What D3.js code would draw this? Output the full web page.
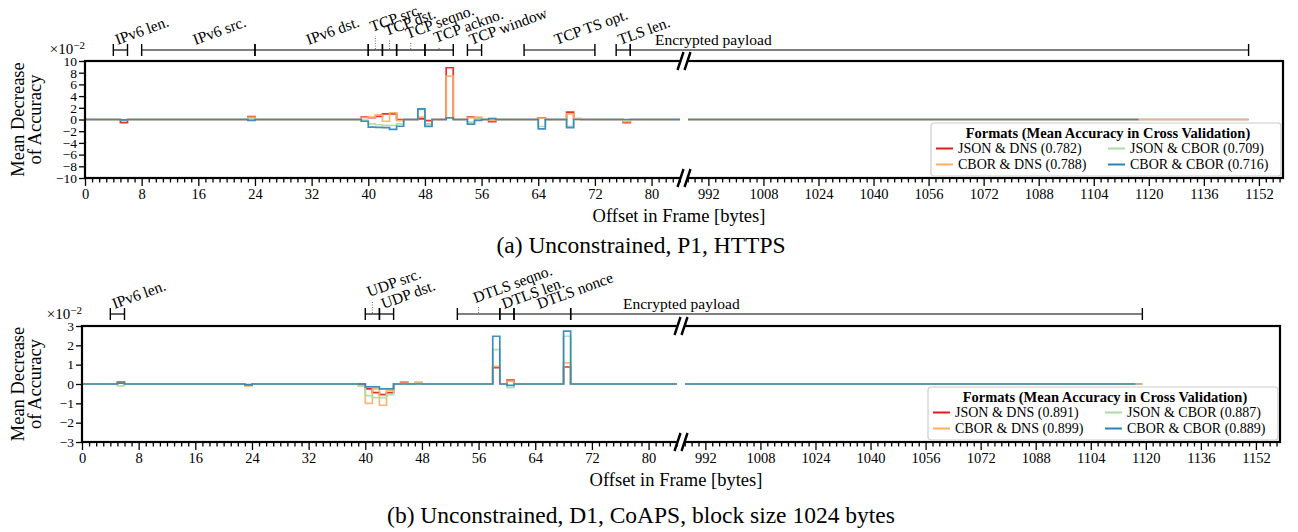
<!DOCTYPE html>
<html>
<head>
<meta charset="utf-8">
<script src="https://cdn.jsdelivr.net/npm/d3@7"></script>
<style>
  body { margin: 0; background: #fff; }
  svg { font-family: "Liberation Serif", "Times New Roman", serif; }
</style>
</head>
<body>
<svg id="chart" width="1298" height="532"></svg>
<script>
// header byte offsets shown left of the axis break
const headerOffsets = d3.range(0, 85);

const formatNames = ["JSON & DNS", "CBOR & DNS", "JSON & CBOR", "CBOR & CBOR"];
const formatColors = ["#e31a1c", "#fdae61", "#abdda4", "#2b83ba"];

// (a) Unconstrained, P1, HTTPS  -- mean decrease of accuracy, x10^-2
const accuracyA = [0.782, 0.788, 0.709, 0.716];
const jsonDnsA = [
  0, 0, 0, 0, 0, -0.55, 0, 0,
  0, 0, 0, 0, 0, 0, 0, 0,
  0, 0, 0, 0, 0, 0, 0, 0.5,
  0, 0, 0, 0, 0, 0, 0, 0,
  0, 0, 0, 0, 0, 0, 0, 0.4,
  0.3, 0.55, 0.95, 0.95, 0, 0, 0, 0.1,
  -0.2, 0, 0, 8.85, 0, 0, 0.4, 0.2,
  0, -0.35, 0, 0, 0, 0, 0, 0,
  0.3, 0, 0, 0, 1.25, 0.05, 0, 0,
  0, 0, 0, 0, -0.55, 0, 0, 0,
  0, 0, 0, 0, 0
];
const cborDnsA = [
  0, 0, 0, 0, 0, -0.1, 0, 0,
  0, 0, 0, 0, 0, 0, 0, 0,
  0, 0, 0, 0, 0, 0, 0, 0.35,
  0, 0, 0, 0, 0, 0, 0, 0,
  0, 0, 0, 0, 0, 0, 0, 0.3,
  0.4, 0.8, -0.3, 1.15, -0.2, 0, 0, 0.4,
  -0.75, 0, 0, 7.4, 0, 0, 0.3, 0.4,
  0, -0.15, 0, 0, 0, 0, 0, 0,
  0.25, 0, 0, 0, 0.95, 0.2, 0, 0,
  0, 0, 0, 0, -0.35, 0, 0, 0,
  0, 0, 0, 0, 0
];
const jsonCborA = [
  0, 0, 0, 0, 0, -0.1, 0, 0,
  0, 0, 0, 0, 0, 0, 0, 0,
  0, 0, 0, 0, 0, 0, 0, 0.1,
  0, 0, 0, 0, 0, 0, 0, 0,
  0, 0, 0, 0, 0, 0, 0, -0.1,
  -0.75, -0.9, -1.0, -1.0, -0.75, 0, 0, 1.7,
  -1.0, 0, 0, 0.25, 0, 0, -0.45, 0.1,
  0, 0.15, 0, 0, 0, 0, 0, 0,
  -1.2, 0, 0, 0, -1.15, 0, 0, 0,
  0, 0, 0, 0, -0.1, 0, 0, 0,
  0, 0, 0, 0, 0
];
const cborCborA = [
  0, 0, 0, 0, 0, -0.05, 0, 0,
  0, 0, 0, 0, 0, 0, 0, 0,
  0, 0, 0, 0, 0, 0, 0, -0.15,
  0, 0, 0, 0, 0, 0, 0, 0,
  0, 0, 0, 0, 0, 0, 0, -0.3,
  -1.3, -1.35, -1.4, -1.7, -1.15, 0, 0, 1.8,
  -1.2, 0, 0, 0.3, 0, 0, -0.8, -0.15,
  0, 0.15, 0, 0, 0, 0, 0, 0,
  -1.6, 0, 0, 0, -1.4, 0, 0, 0,
  0, 0, 0, 0, 0, 0, 0, 0,
  0, 0, 0, 0, 0
];
// last byte of the (all-zero) encrypted payload per format
const payloadEndA = [1149, 1117, 1149, 1117];

const fieldNamesA = ["IPv6 len.", "IPv6 src.", "IPv6 dst.", "TCP src.", "TCP dst.", "TCP seqno.",
  "TCP ackno.", "TCP window", "TCP TS opt.", "TLS len.", "Encrypted payload"];
const fieldStartA = [4, 8, 24, 40, 42, 44, 48, 54, 62, 75, 77];
const fieldEndA = [6, 24, 40, 42, 44, 48, 52, 56, 72, 77, 1149];

// (b) Unconstrained, D1, CoAPS, block size 1024 bytes
const accuracyB = [0.891, 0.899, 0.887, 0.889];
const jsonDnsB = [
  0, 0, 0, 0, 0, 0.1, 0, 0,
  0, 0, 0, 0, 0, 0, 0, 0,
  0, 0, 0, 0, 0, 0, 0, -0.05,
  0, 0, 0, 0, 0, 0, 0, 0,
  0, 0, 0, 0, 0, 0, 0, 0,
  -0.25, -0.45, -0.55, -0.45, 0, 0.08, 0, 0.05,
  0, 0, 0, 0, 0, 0, 0, 0,
  0, 0, 0.85, 0, 0.2, 0, 0, 0,
  0, 0, 0, 0, 0.88, 0, 0, 0,
  0, 0, 0, 0, 0, 0, 0, 0,
  0, 0, 0, 0, 0
];
const cborDnsB = [
  0, 0, 0, 0, 0, 0.05, 0, 0,
  0, 0, 0, 0, 0, 0, 0, 0,
  0, 0, 0, 0, 0, 0, 0, -0.1,
  0, 0, 0, 0, 0, 0, 0, 0,
  0, 0, 0, 0, 0, 0, 0, -0.1,
  -1.0, -0.25, -1.1, -0.33, 0, 0.05, 0, 0.1,
  0, 0, 0, 0, 0, 0, 0, 0,
  0, 0, 0.91, 0, 0.15, 0, 0, 0,
  0, 0, 0, 0, 1.09, 0, 0, 0,
  0, 0, 0, 0, 0, 0, 0, 0,
  0, 0, 0, 0, 0
];
const jsonCborB = [
  0, 0, 0, 0, 0, -0.1, 0, 0,
  0, 0, 0, 0, 0, 0, 0, 0,
  0, 0, 0, 0, 0, 0, 0, 0,
  0, 0, 0, 0, 0, 0, 0, 0,
  0, 0, 0, 0, 0, 0, 0, -0.1,
  -0.6, -0.7, -0.7, -0.55, 0, 0, 0, 0.03,
  0, 0, 0, 0, 0, 0, 0, 0,
  0, 0, 1.78, 0, -0.19, 0, 0, 0,
  0, 0, 0, 0, 2.47, 0, 0, 0,
  0, 0, 0, 0, 0, 0, 0, 0,
  0, 0, 0, 0, 0
];
const cborCborB = [
  0, 0, 0, 0, 0, 0.05, 0, 0,
  0, 0, 0, 0, 0, 0, 0, 0,
  0, 0, 0, 0, 0, 0, 0, -0.05,
  0, 0, 0, 0, 0, 0, 0, 0,
  0, 0, 0, 0, 0, 0, 0, 0,
  -0.15, -0.15, -0.25, -0.25, 0, 0, 0, 0,
  0, 0, 0, 0, 0, 0, 0, 0,
  0, 0, 2.47, 0, -0.07, 0, 0, 0,
  0, 0, 0, 0, 2.74, 0, 0, 0,
  0, 0, 0, 0, 0, 0, 0, 0,
  0, 0, 0, 0, 0
];
const payloadEndB = [1119, 1117, 1119, 1117];

const fieldNamesB = ["IPv6 len.", "UDP src.", "UDP dst.", "DTLS seqno.", "DTLS len.", "DTLS nonce", "Encrypted payload"];
const fieldStartB = [4, 40, 42, 53, 59, 61, 69];
const fieldEndB = [6, 42, 44, 59, 61, 69, 1119];

// x limits of the two axis segments
const leftLimits = [0, 84.3];
const rightLimits = [985.5, 1159];
const payloadStart = 985;

const svg = d3.select("#chart");

const panels = [
  {
    series: [jsonDnsA, cborDnsA, jsonCborA, cborCborA], accuracy: accuracyA, payloadEnd: payloadEndA,
    fields: fieldNamesA.map((n, i) => ({ name: n, start: fieldStartA[i], end: fieldEndA[i] })),
    lift: [0, 0, 0, 13, 9, 6, 2, 0, 0, 0, 0], payloadLabelX: 655,
    left: 85, right: 1283, top: 61, bottom: 178, bracketY: 50,
    yDomain: [-10, 10], yStep: 2,
    caption: "(a) Unconstrained, P1, HTTPS", captionY: 253
  },
  {
    series: [jsonDnsB, cborDnsB, jsonCborB, cborCborB], accuracy: accuracyB, payloadEnd: payloadEndB,
    fields: fieldNamesB.map((n, i) => ({ name: n, start: fieldStartB[i], end: fieldEndB[i] })),
    lift: [0, 12, 0, 6, 0, 0, 0], payloadLabelX: 623,
    left: 82, right: 1280, top: 326, bottom: 442, bracketY: 314,
    yDomain: [-3, 3], yStep: 1,
    caption: "(b) Unconstrained, D1, CoAPS, block size 1024 bytes", captionY: 523
  }
];

panels.forEach((p, pi) => drawPanel(p, pi));

function drawPanel(p, pi) {
  const pxPerByte = 7.082;
  const leftEndPx = p.left + (leftLimits[1] - leftLimits[0]) * pxPerByte;
  const breakX = leftEndPx + 2;

  const x = d3.scaleLinear()
    .domain([leftLimits[0], leftLimits[1], rightLimits[0], rightLimits[1]])
    .range([p.left, leftEndPx, leftEndPx + 4, p.right]);
  const y = d3.scaleLinear().domain(p.yDomain).range([p.bottom, p.top]);

  const g = svg.append("g");

  // clip paths for the two segments
  const defs = svg.append("defs");
  defs.append("clipPath").attr("id", "clipL" + pi)
    .append("rect").attr("x", p.left).attr("y", p.top - 5)
    .attr("width", leftEndPx - 2 - p.left).attr("height", p.bottom - p.top + 10);
  defs.append("clipPath").attr("id", "clipR" + pi)
    .append("rect").attr("x", leftEndPx + 6).attr("y", p.top - 5)
    .attr("width", p.right - leftEndPx - 6).attr("height", p.bottom - p.top + 10);

  const line = d3.line()
    .x(d => x(d[0]))
    .y(d => y(d[1]))
    .curve(d3.curveStepAfter);

  p.series.forEach((vals, si) => {
    const pts = headerOffsets.map((o, i) => [o, vals[i]]);
    pts.push([headerOffsets[headerOffsets.length - 1] + 1, vals[vals.length - 1]]);
    g.append("path")
      .attr("d", line(pts))
      .attr("clip-path", `url(#clipL${pi})`)
      .attr("fill", "none")
      .attr("stroke", formatColors[si])
      .attr("stroke-width", 1.7)
      .attr("stroke-opacity", 0.9);
    g.append("path")
      .attr("d", line([[payloadStart, 0], [p.payloadEnd[si], 0]]))
      .attr("clip-path", `url(#clipR${pi})`)
      .attr("fill", "none")
      .attr("stroke", formatColors[si])
      .attr("stroke-width", 1.7)
      .attr("stroke-opacity", 0.9);
  });

  // x axis: major and minor ticks
  const majorTicks = d3.range(0, 81, 8).concat(d3.range(992, 1153, 16));
  const minorTicks = d3.range(0, 85).filter(v => v % 8 !== 0).concat(d3.range(986, 1159, 2).filter(v => v % 16 !== 0));

  const xMinor = g.append("g").attr("transform", `translate(0,${p.bottom})`)
    .call(d3.axisBottom(x).tickValues(minorTicks).tickSize(4.5).tickFormat(""));
  const xMajor = g.append("g").attr("transform", `translate(0,${p.bottom})`)
    .call(d3.axisBottom(x).tickValues(majorTicks).tickSize(8).tickPadding(3).tickFormat(d3.format("d")));
  [xMinor, xMajor].forEach(a => {
    a.select(".domain").remove();
    a.selectAll("line").attr("stroke", "#000").attr("stroke-width", 1.3);
  });
  xMajor.selectAll("text").attr("font-size", 14.5).attr("fill", "#000")
    .attr("font-family", "'Liberation Serif', serif");

  // y axis
  const yAxis = g.append("g").attr("transform", `translate(${p.left},0)`)
    .call(d3.axisLeft(y).tickValues(d3.range(p.yDomain[0], p.yDomain[1] + 0.001, p.yStep))
      .tickSize(6).tickPadding(2).tickFormat(d3.format("d")));
  yAxis.select(".domain").remove();
  yAxis.selectAll("line").attr("stroke", "#000").attr("stroke-width", 1.3);
  yAxis.selectAll("text").attr("font-size", 13.5).attr("fill", "#000")
    .attr("font-family", "'Liberation Serif', serif");

  // frame with break
  g.append("rect")
    .attr("x", p.left).attr("y", p.top)
    .attr("width", p.right - p.left).attr("height", p.bottom - p.top)
    .attr("fill", "none").attr("stroke", "#000").attr("stroke-width", 2.2);
  [p.top, p.bottom].forEach(yy => {
    g.append("rect").attr("x", breakX - 3).attr("y", yy - 3).attr("width", 6).attr("height", 6)
      .attr("fill", "#fff");
    [-3.5, 3.5].forEach(dx => {
      g.append("line")
        .attr("x1", breakX + dx - 3).attr("y1", yy + 9)
        .attr("x2", breakX + dx + 3).attr("y2", yy - 9)
        .attr("stroke", "#000").attr("stroke-width", 2.4);
    });
  });

  // exponent
  const ex = g.append("text").attr("x", p.left).attr("y", p.top - 7)
    .attr("text-anchor", "end").attr("font-size", 15);
  ex.append("tspan").text("×10");
  ex.append("tspan").attr("dy", -5).attr("font-size", 11).text("−2");

  // y label
  const yc = (p.top + p.bottom) / 2;
  [["Mean Decrease", 24], ["of Accuracy", 41]].forEach(([t, xx]) => {
    g.append("text").attr("transform", `translate(${xx},${yc}) rotate(-90)`)
      .attr("text-anchor", "middle").attr("font-size", 18.5).text(t);
  });

  // x label and caption
  g.append("text").attr("x", (p.left + p.right) / 2 - 5).attr("y", p.bottom + 44)
    .attr("text-anchor", "middle").attr("font-size", 18.5).text("Offset in Frame [bytes]");
  svg.append("text").attr("x", 641).attr("y", p.captionY)
    .attr("text-anchor", "middle").attr("font-size", 23.5).text(p.caption);

  // field annotations above the plot
  const ann = g.append("g");
  p.fields.forEach((f, i) => {
    const x0 = x(f.start), x1 = x(f.end), by = p.bracketY;
    ann.append("line").attr("x1", x0).attr("x2", x1).attr("y1", by).attr("y2", by)
      .attr("stroke", "#000").attr("stroke-width", 1.2);
    [x0, x1].forEach(xx => ann.append("line").attr("x1", xx).attr("x2", xx)
      .attr("y1", by - 6).attr("y2", by + 6).attr("stroke", "#000").attr("stroke-width", 1.4));
    if (f.end > leftLimits[1]) {
      ann.append("text").attr("x", p.payloadLabelX).attr("y", by - 5)
        .attr("font-size", 15.5).text(f.name);
      return;
    }
    const cx = x((f.start + f.end) / 2);
    const lift = p.lift[i];
    if (lift > 0) {
      ann.append("line").attr("x1", cx).attr("x2", cx).attr("y1", by - 1).attr("y2", by - 1 - lift)
        .attr("stroke", "#444").attr("stroke-width", 0.8).attr("stroke-dasharray", "1,1.5");
    }
    ann.append("text")
      .attr("transform", `translate(${cx - 3},${by - 5 - lift}) rotate(-20)`)
      .attr("font-size", 15.5).text(f.name);
  });

  // legend
  const lw = 350, lh = 53;
  const lx = p.right - 2 - lw, ly = p.bottom - 2 - lh;
  const leg = g.append("g").attr("transform", `translate(${lx},${ly})`);
  leg.append("rect").attr("width", lw).attr("height", lh).attr("rx", 3)
    .attr("fill", "#fff").attr("fill-opacity", 0.85)
    .attr("stroke", "#cccccc").attr("stroke-width", 1.2);
  leg.append("text").attr("x", lw / 2 + 2).attr("y", 15).attr("text-anchor", "middle")
    .attr("font-size", 14.5).attr("font-weight", "bold")
    .text("Formats (Mean Accuracy in Cross Validation)");
  formatNames.forEach((n, i) => {
    const col = Math.floor(i / 2), row = i % 2;
    const ex0 = 5 + col * 172, ey = 30 + row * 16;
    leg.append("line").attr("x1", ex0).attr("x2", ex0 + 17).attr("y1", ey - 4.5).attr("y2", ey - 4.5)
      .attr("stroke", formatColors[i]).attr("stroke-width", 2);
    leg.append("text").attr("x", ex0 + 22).attr("y", ey).attr("font-size", 14)
      .text(`${n} (${p.accuracy[i].toFixed(3)})`);
  });
}
</script>
</body>
</html>
